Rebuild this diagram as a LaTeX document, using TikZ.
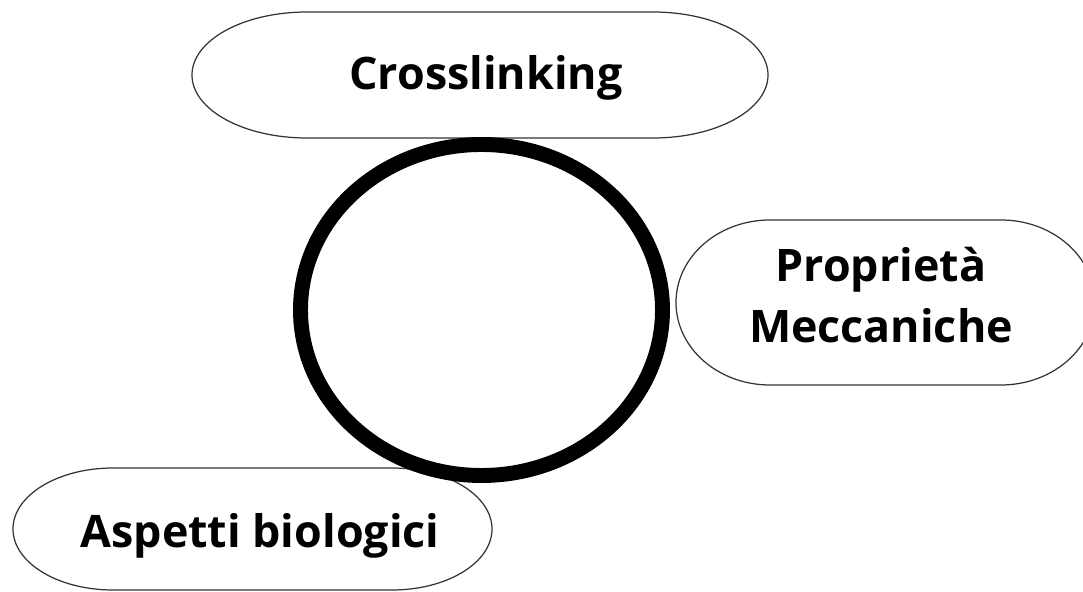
\documentclass[tikz,border=0pt]{standalone}
\usepackage{fontspec}
\setmainfont{Open Sans}

% outline of a flat bubble: centre x, centre y, half width, half height, end radius
\newcommand{\bubbleline}[5]{%
    \draw[bubble] ({#1-#3},#2)
        arc[start angle=180, end angle=90, x radius=#5, y radius=#4]
        -- ({#1+#3-#5},{#2+#4})
        arc[start angle=90, end angle=-90, x radius=#5, y radius=#4]
        -- ({#1-#3+#5},{#2-#4})
        arc[start angle=270, end angle=180, x radius=#5, y radius=#4]
        -- cycle;
}

\begin{document}
\begin{tikzpicture}
    [
        x = 0.02cm, y = 0.02cm,
        bubble/.style = {draw = black!80, line width = 0.7pt, fill = white},
        word/.style = {font = \fontsize{25.5}{35}\selectfont\bfseries, align = center},
        ring/.style = {draw = black, line width = 8.5pt}
    ]

    \useasboundingbox (0,0) rectangle (1083,592);

    % bubbles
    \bubbleline{480}{517}{288}{63}{115}
    \bubbleline{885.5}{289.5}{209.5}{82.5}{94}
    \bubbleline{252.5}{63}{239.5}{61}{100}

    % texts
    \node[word, anchor = base] (cross) at (486,502) {Crosslinking};
    \node[word] (mech) at (881,297) {Propriet\`a\\Meccaniche};
    \node[word, anchor = base] (bio) at (260,44) {Aspetti biologici};

    % ring in the middle
    \draw[ring] (481.5,282) ellipse [x radius = 181, y radius = 165.5];

\end{tikzpicture}
\end{document}
